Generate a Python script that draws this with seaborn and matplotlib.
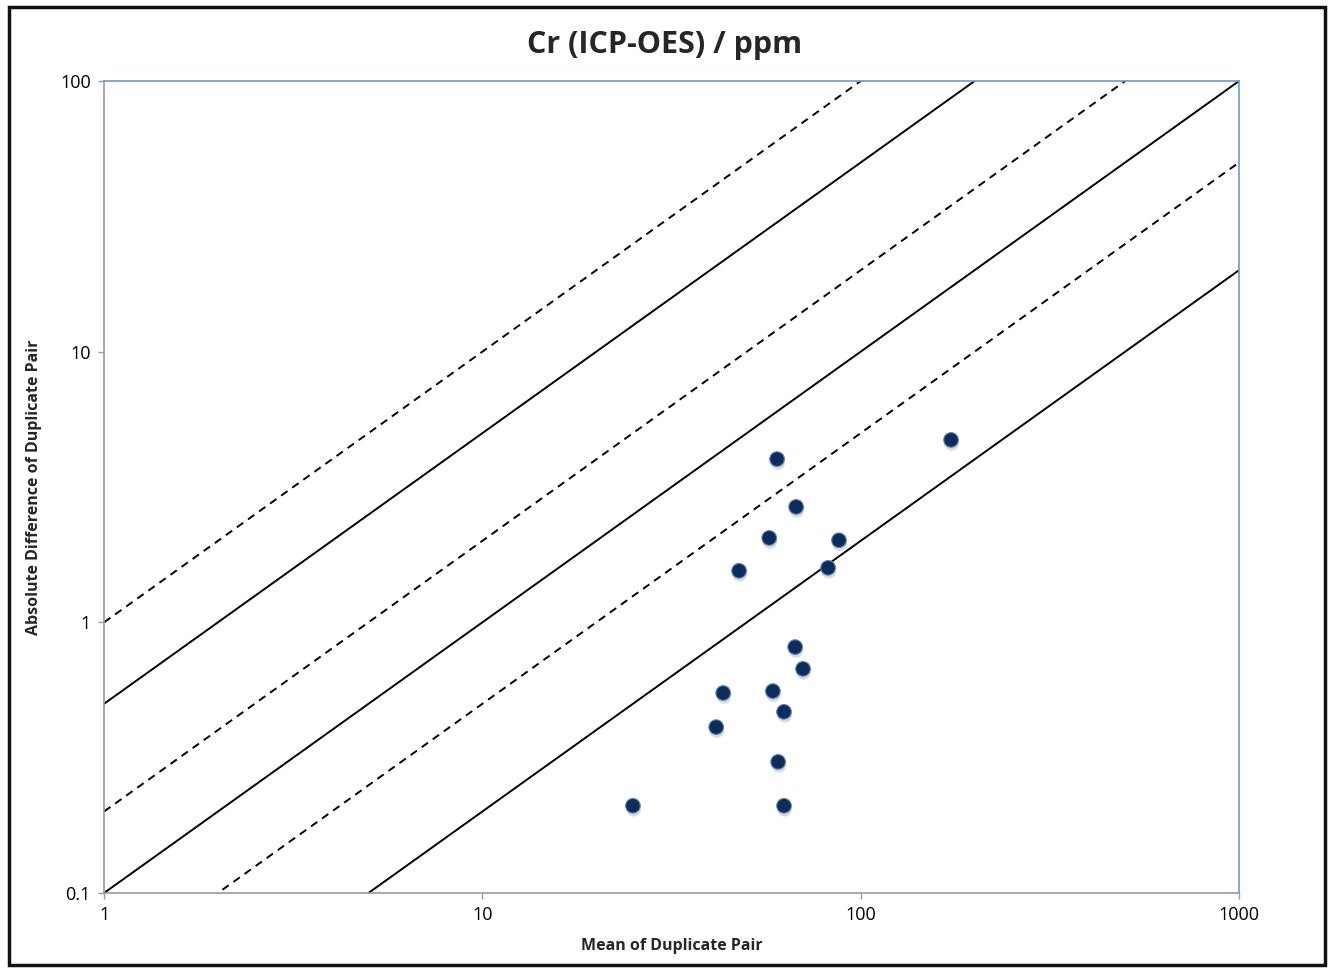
import numpy as np
import pandas as pd
import matplotlib
matplotlib.use("Agg")
import matplotlib.pyplot as plt
import matplotlib.patheffects as pe
from matplotlib.patches import Rectangle
from matplotlib.ticker import FixedLocator, FixedFormatter, NullLocator
import seaborn as sns

# duplicate pairs: mean vs absolute difference (Cr, ppm)
mean_pair = [25.0, 62.7, 60.5, 41.5, 43.3, 58.6, 62.7, 70.4, 67.1, 47.7,
             57.3, 82.0, 87.6, 67.5, 60.1, 173.3]
abs_diff = [0.21, 0.21, 0.305, 0.41, 0.548, 0.557, 0.467, 0.673, 0.81, 1.55,
            2.05, 1.59, 2.01, 2.67, 4.01, 4.72]

# guide lines: |diff| = ratio * mean
ratios = [1.0, 0.5, 0.2, 0.1, 0.05, 0.02]
ratio_dashed = [True, False, True, False, True, False]
x_ends = [1, 1000]

x_ticks = [1, 10, 100, 1000]
x_labels = ["1", "10", "100", "1000"]
y_ticks = [0.1, 1, 10, 100]
y_labels = ["0.1", "1", "10", "100"]

df = pd.DataFrame({"mean": mean_pair, "diff": abs_diff})

sns.set_style("white")
plt.rcParams['font.family'] = ['Open Sans', 'DejaVu Sans']

fig = plt.figure(figsize=(13.29, 9.68), dpi=100)
ax = fig.add_axes([0.0783, 0.0775, 0.854, 0.8388])

for r, d in zip(ratios, ratio_dashed):
    ax.plot(x_ends, [r * x for x in x_ends], color="black", lw=1.4,
            linestyle=(0, (4, 3)) if d else "-", zorder=2)

sns.scatterplot(data=df, x="mean", y="diff", ax=ax, s=110, color="#0c2c5c",
                edgecolor="#5b7fb5", linewidth=0.8, zorder=3,
                path_effects=[pe.SimplePatchShadow(offset=(0.5, -2.5), shadow_rgbFace="#888888", alpha=0.3),
                              pe.Normal()])

ax.set_xscale("log")
ax.set_yscale("log")
ax.set_xlim(1, 1000)
ax.set_ylim(0.1, 100)

ax.xaxis.set_major_locator(FixedLocator(x_ticks))
ax.xaxis.set_major_formatter(FixedFormatter(x_labels))
ax.yaxis.set_major_locator(FixedLocator(y_ticks))
ax.yaxis.set_major_formatter(FixedFormatter(y_labels))
ax.xaxis.set_minor_locator(NullLocator())
ax.yaxis.set_minor_locator(NullLocator())

ax.tick_params(axis="both", which="major", direction="out", length=4.5, width=1,
               color="#9a9a9a", labelsize=13, labelcolor="black", pad=5,
               bottom=True, left=True)

for s in ["left", "bottom"]:
    ax.spines[s].set_color("#9a9a9a")
    ax.spines[s].set_linewidth(1.2)
for s in ["top", "right"]:
    ax.spines[s].set_color("#6b9ad6")
    ax.spines[s].set_linewidth(1.2)

ax.set_xlabel("Mean of Duplicate Pair", fontsize=11.5, fontweight="bold", labelpad=10)
ax.set_ylabel("Absolute Difference of Duplicate Pair", fontsize=11.5, fontweight="bold")
ax.yaxis.set_label_coords((42 - 104) / (1239 - 104), 0.5)

fig.text(0.5, 0.953, "Cr (ICP-OES) / ppm", ha="center", va="center",
         fontsize=22, fontweight="bold")

fig.patches.append(Rectangle((0.007, 0.003), 0.99, 0.99, transform=fig.transFigure,
                             fill=False, edgecolor="#111111", linewidth=2.5))

fig.savefig("out.png", dpi=100)
